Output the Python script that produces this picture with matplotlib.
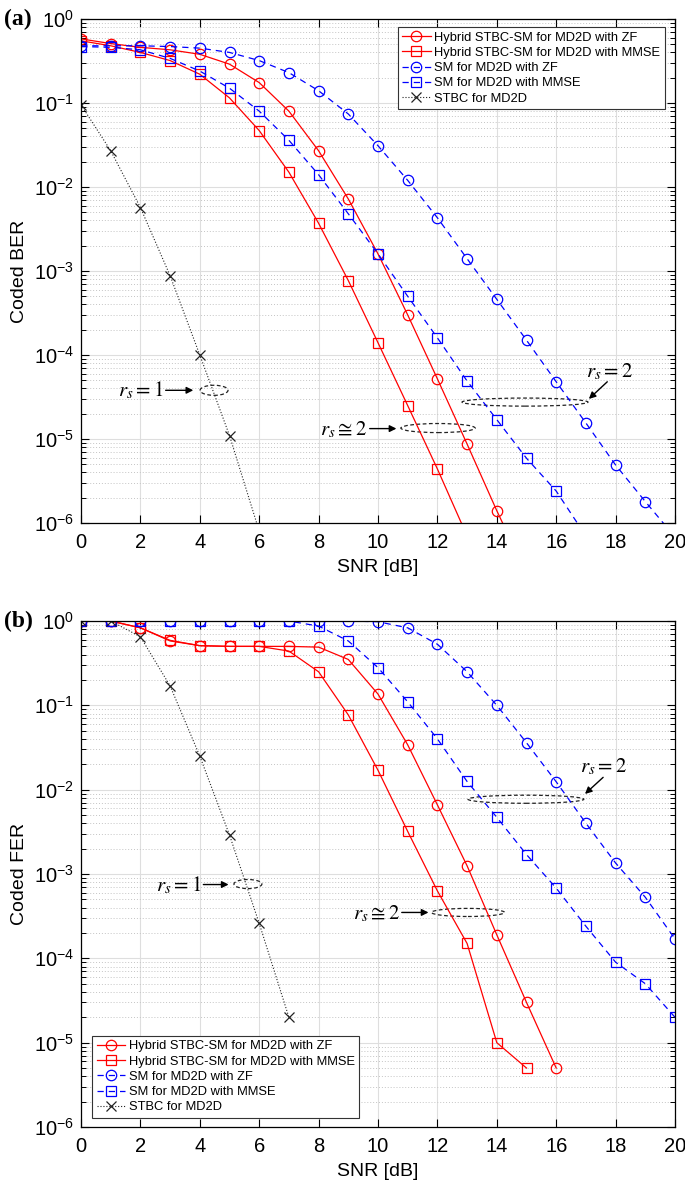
"""Coded BER / FER vs SNR for hybrid STBC-SM, SM and STBC over MD2D."""

import matplotlib

matplotlib.use("Agg")
import matplotlib.pyplot as plt
from matplotlib.patches import Ellipse
from matplotlib.ticker import LogLocator, NullFormatter

plt.rcParams["font.family"] = ["Liberation Sans", "DejaVu Sans"]

# ---- data ----
snr = list(range(21))

ber_hyb_zf = [0.58, 0.51, 0.46, 0.43, 0.38, 0.29, 0.175, 0.08, 0.027, 0.0072, 0.0016,
              3.0e-4, 5.2e-5, 8.7e-6, 1.4e-6, 2.5e-7]
ber_hyb_mmse = [0.55, 0.48, 0.40, 0.32, 0.22, 0.115, 0.047, 0.015, 0.0037, 7.7e-4, 1.4e-4,
                2.5e-5, 4.4e-6, 7e-7]
ber_sm_zf = [0.48, 0.48, 0.48, 0.47, 0.45, 0.40, 0.32, 0.23, 0.14, 0.074, 0.031, 0.012,
             0.0043, 0.0014, 4.6e-4, 1.5e-4, 4.8e-5, 1.55e-5, 4.9e-6, 1.8e-6, 6.8e-7]
ber_sm_mmse = [0.47, 0.46, 0.43, 0.34, 0.24, 0.15, 0.08, 0.036, 0.014, 0.0048, 0.0016,
               5.0e-4, 1.6e-4, 4.9e-5, 1.7e-5, 5.9e-6, 2.4e-6, 7e-7]
ber_stbc = [0.095, 0.027, 0.0057, 8.8e-4, 1.0e-4, 1.1e-5, 8e-7]

fer_hyb_zf = [1.0, 1.0, 0.83, 0.58, 0.51, 0.50, 0.50, 0.50, 0.49, 0.35, 0.136, 0.034,
              0.0066, 0.00125, 1.9e-4, 3.0e-5, 5.0e-6]
fer_hyb_mmse = [1.0, 1.0, 0.83, 0.59, 0.51, 0.50, 0.50, 0.44, 0.25, 0.077, 0.017, 0.0032,
                6.3e-4, 1.5e-4, 1.0e-5, 5.0e-6]
fer_sm_zf = [1.0, 1.0, 1.0, 1.0, 1.0, 1.0, 1.0, 1.0, 1.0, 1.0, 0.98, 0.83, 0.53, 0.25,
             0.10, 0.036, 0.0124, 0.004, 0.00135, 5.3e-4, 1.7e-4]
fer_sm_mmse = [1.0, 1.0, 1.0, 1.0, 1.0, 1.0, 1.0, 1.0, 0.87, 0.58, 0.28, 0.11, 0.04,
               0.0125, 0.0047, 0.0017, 6.8e-4, 2.4e-4, 9.0e-5, 5.0e-5, 2.0e-5]
fer_stbc = [1.0, 1.0, 0.65, 0.17, 0.025, 0.0029, 2.6e-4, 2.0e-5]

labels = [
    "Hybrid STBC-SM for MD2D with ZF",
    "Hybrid STBC-SM for MD2D with MMSE",
    "SM for MD2D with ZF",
    "SM for MD2D with MMSE",
    "STBC for MD2D",
]

# rank annotations: (text, text x, text y, ha, arrow tail, arrow head, ring centre, ring w, ring h)
ber_notes = [
    (r"$r_s = 1$", 2.76, 3.8e-5, "right", (2.85, 3.8e-5), (3.78, 3.8e-5), (4.48, 3.8e-5), 0.047, 0.02),
    (r"$r_s \cong 2$", 9.63, 1.3e-5, "right", (9.72, 1.33e-5), (10.62, 1.33e-5), (12.02, 1.35e-5), 0.125, 0.018),
    (r"$r_s = 2$", 17.8, 6.3e-5, "center", (17.72, 4.8e-5), (17.1, 3.0e-5), (14.95, 2.75e-5), 0.212, 0.016),
]
fer_notes = [
    (r"$r_s = 1$", 4.04, 7.4e-4, "right", (4.12, 7.5e-4), (4.97, 7.5e-4), (5.62, 7.6e-4), 0.047, 0.018),
    (r"$r_s \cong 2$", 10.74, 3.4e-4, "right", (10.8, 3.5e-4), (11.7, 3.5e-4), (13.03, 3.5e-4), 0.123, 0.016),
    (r"$r_s = 2$", 17.6, 0.019, "center", (17.58, 0.014), (16.97, 0.0089), (14.98, 0.0077), 0.195, 0.016),
]


def draw_panel(ax, curves, notes, ylabel, legend_loc, legend_anchor):
    styles = [
        dict(color="#ff0000", ls="-", marker="o", ms=7.5),
        dict(color="#ff0000", ls="-", marker="s", ms=6.5),
        dict(color="#0000ff", ls=(0, (5, 4)), marker="o", ms=7.5),
        dict(color="#0000ff", ls=(0, (5, 4)), marker="s", ms=6.5),
        dict(color="#222222", ls=":", marker="x", ms=7),
    ]
    for ys, st, lab in zip(curves, styles, labels):
        ax.plot(snr[:len(ys)], ys, color=st["color"], ls=st["ls"], marker=st["marker"],
                ms=st["ms"], mfc="none", mew=0.9, lw=0.9 if st["marker"] != "x" else 0.8,
                label=lab)

    ax.set_yscale("log")
    ax.set_xlim(0, 20)
    ax.set_ylim(1e-6, 1)
    ax.set_xticks(range(0, 21, 2))
    ax.yaxis.set_major_locator(LogLocator(base=10, numticks=10))
    ax.yaxis.set_minor_locator(LogLocator(base=10, subs=range(2, 10), numticks=20))
    ax.yaxis.set_minor_formatter(NullFormatter())
    ax.tick_params(which="both", direction="in", top=True, right=True, labelsize=14.5)
    ax.tick_params(which="major", length=6, width=0.8)
    ax.tick_params(which="minor", length=3.5, width=0.7)
    ax.tick_params(axis="x", pad=7)
    ax.tick_params(axis="y", pad=5)
    ax.grid(True, which="major", color="#dedede", lw=0.8, ls="-")
    ax.grid(True, which="minor", axis="y", color="#c4c4c4", lw=0.7, ls=(0, (1, 2)))
    ax.set_axisbelow(True)
    for sp in ax.spines.values():
        sp.set_linewidth(0.9)

    ax.set_xlabel("SNR [dB]", fontsize=14)
    ax.set_ylabel(ylabel, fontsize=14)
    ax.xaxis.set_label_coords(0.5, -0.072)
    ax.yaxis.set_label_coords(-0.09, 0.5)

    leg = ax.legend(loc=legend_loc, bbox_to_anchor=legend_anchor, fontsize=9.3,
                    fancybox=False, framealpha=1, edgecolor="#333333", borderaxespad=0,
                    handlelength=2.2, handletextpad=0.3, labelspacing=0.25,
                    borderpad=0.35)
    leg.get_frame().set_linewidth(0.8)

    to_axes = ax.transAxes.inverted()
    for txt, tx, ty, ha, tail, head, ring, rw, rh in notes:
        ax.text(tx, ty, txt, ha=ha, va="center", fontsize=15, math_fontfamily="stix")
        ax.annotate("", xy=head, xytext=tail,
                    arrowprops=dict(arrowstyle="-|>", color="k", lw=1.0,
                                    mutation_scale=10, shrinkA=0, shrinkB=0))
        cx, cy = to_axes.transform(ax.transData.transform(ring))
        ax.add_patch(Ellipse((cx, cy), rw, rh, transform=ax.transAxes, fill=False,
                             ec="#222222", lw=0.9, ls=(0, (3, 2))))


fig = plt.figure(figsize=(6.85, 11.84), dpi=100)
ax_a = fig.add_axes([81 / 685, 1 - 523 / 1184, 594 / 685, 504 / 1184])
ax_b = fig.add_axes([81 / 685, 1 - 1127 / 1184, 594 / 685, 506 / 1184])

draw_panel(ax_a, [ber_hyb_zf, ber_hyb_mmse, ber_sm_zf, ber_sm_mmse, ber_stbc],
           ber_notes, "Coded BER", "upper right", (0.983, 0.984))
draw_panel(ax_b, [fer_hyb_zf, fer_hyb_mmse, fer_sm_zf, fer_sm_mmse, fer_stbc],
           fer_notes, "Coded FER", "lower left", (0.0185, 0.018))

fig.text(0.006, 1 - 19 / 1184, "(a)", fontsize=17, fontweight="bold",
         family=["Liberation Serif", "DejaVu Serif"], va="center", ha="left")
fig.text(0.006, 1 - 621 / 1184, "(b)", fontsize=17, fontweight="bold",
         family=["Liberation Serif", "DejaVu Serif"], va="center", ha="left")

fig.savefig("out.png", dpi=100)
plt.close(fig)
